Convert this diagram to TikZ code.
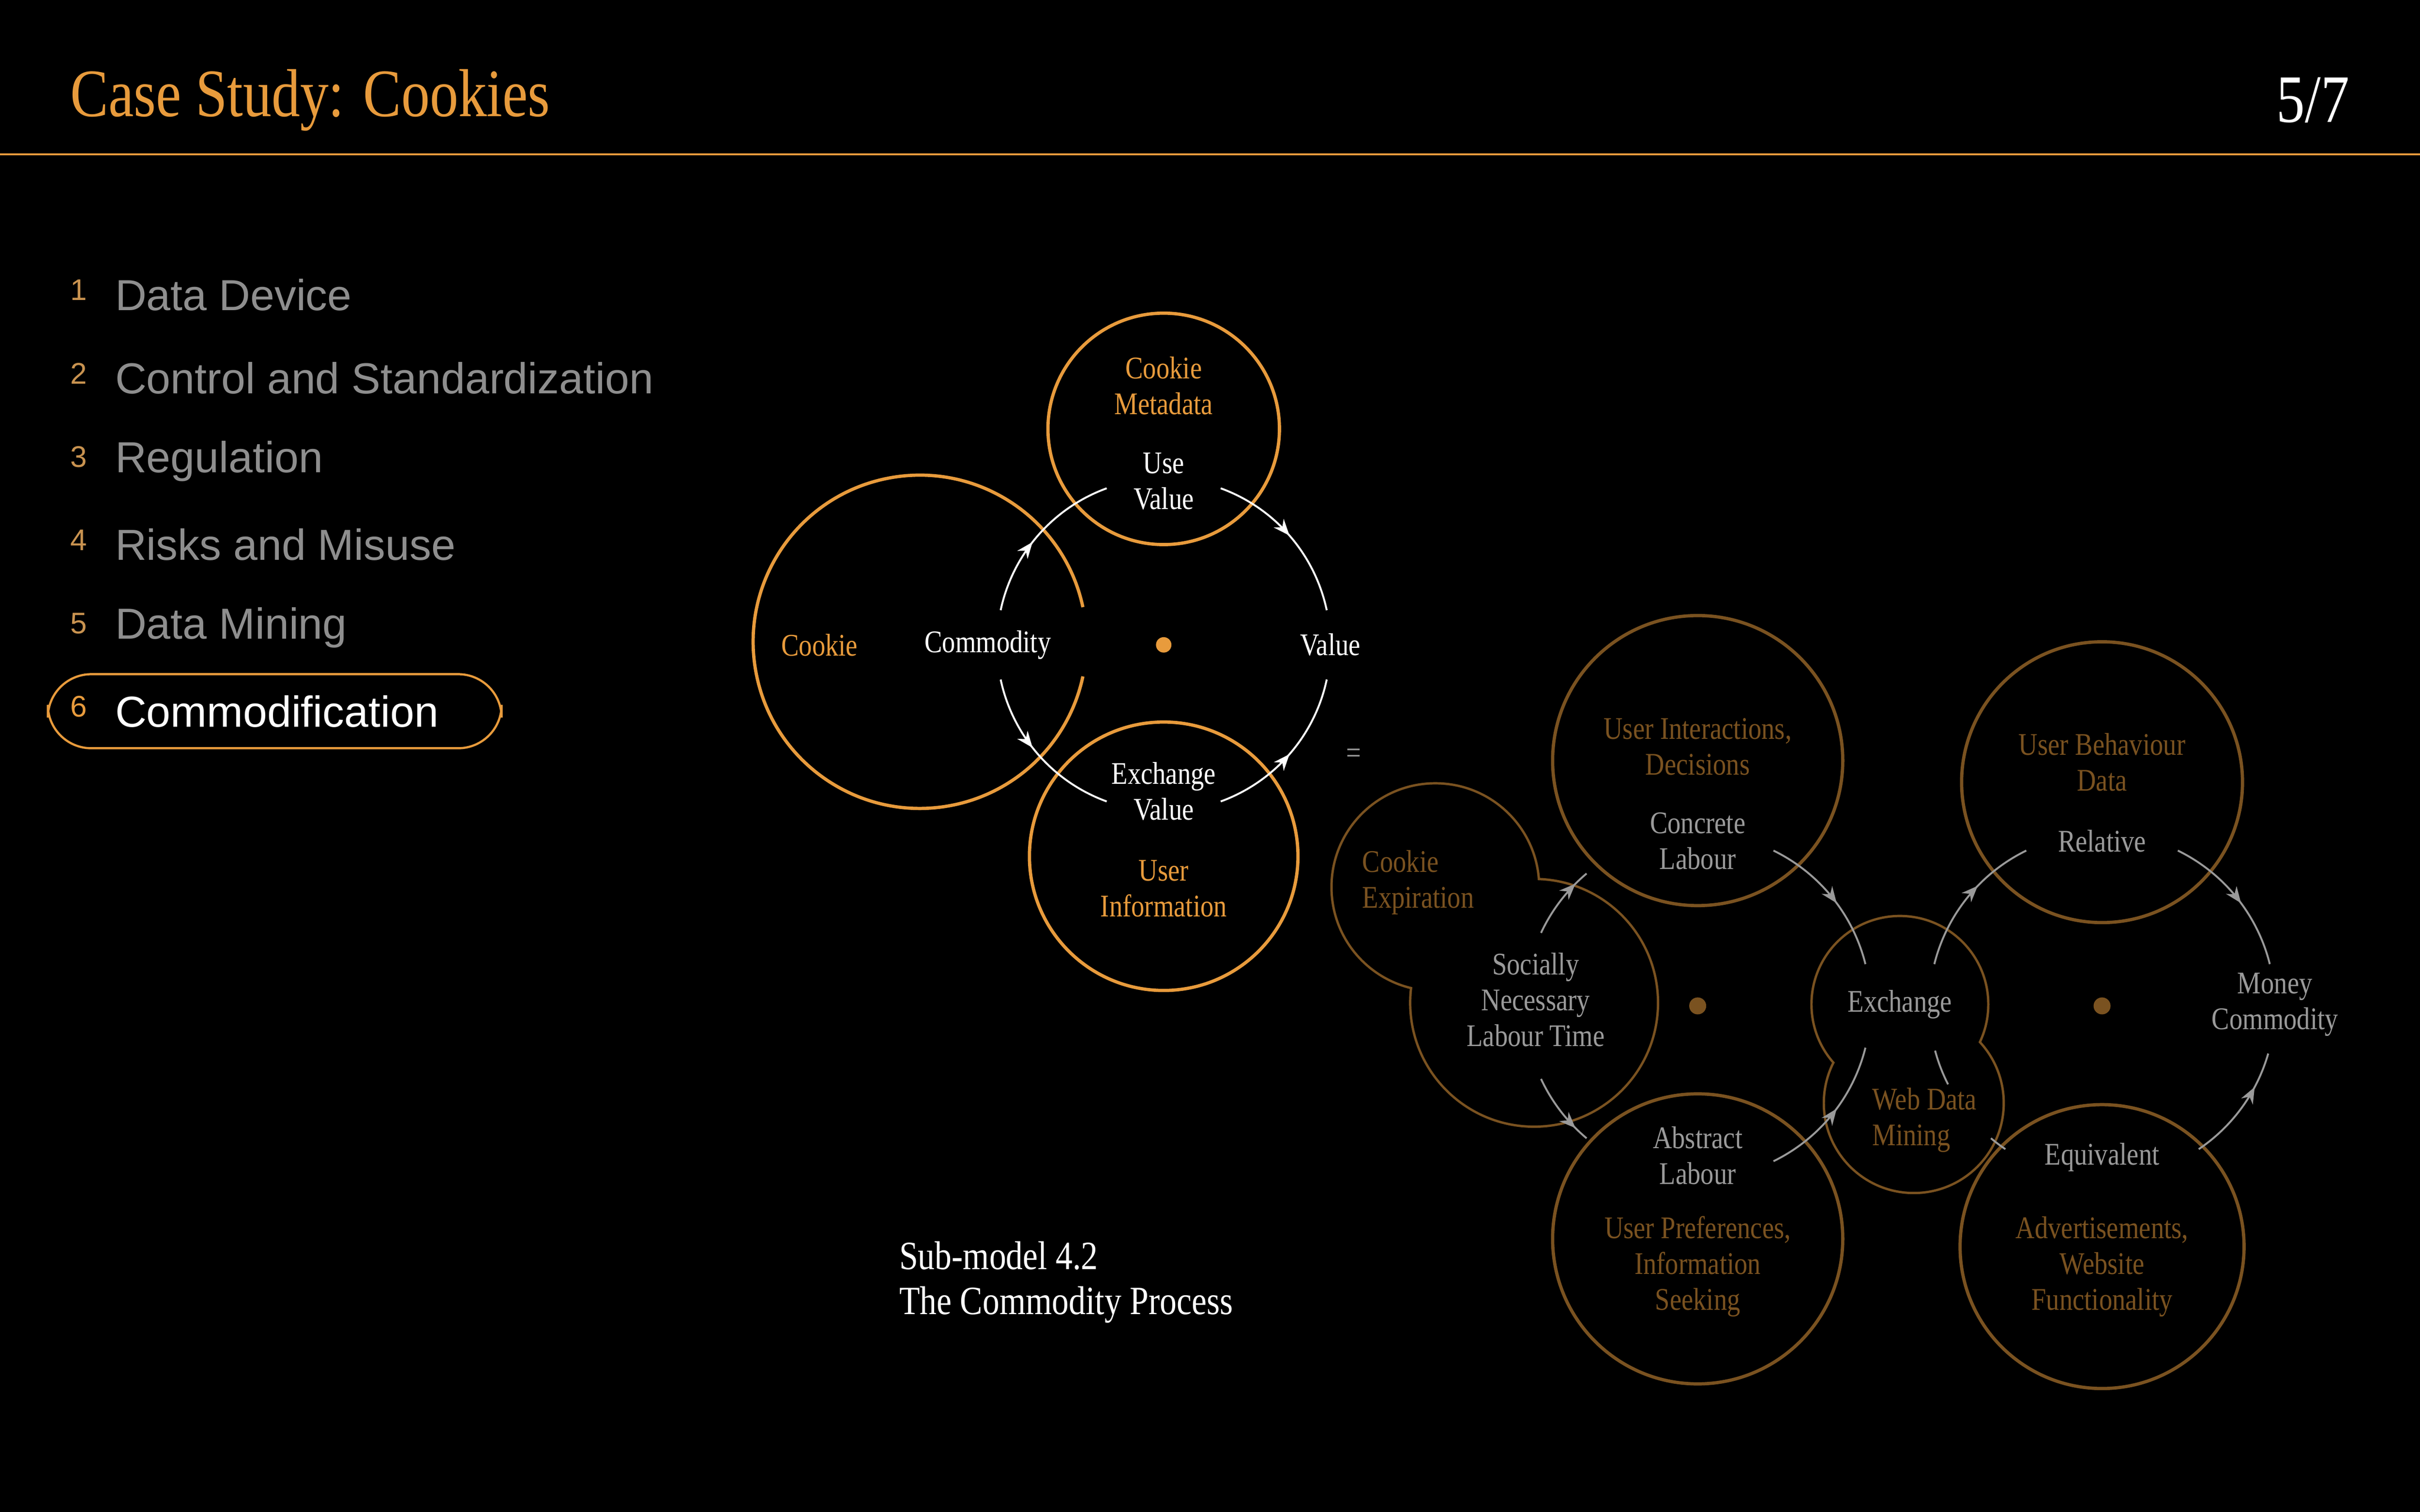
\documentclass[tikz,border=0pt]{standalone}
\usepackage{fontspec}
\setmainfont{Liberation Serif}[FakeStretch=0.84]
\newfontfamily\listfont{Liberation Sans}
\usetikzlibrary{arrows.meta, decorations.markings}
\definecolor{amber}{HTML}{E89B3C}
\definecolor{bronze}{HTML}{7A5220}
\definecolor{ash}{HTML}{9A9A9A}
\definecolor{listgray}{HTML}{8E8E8E}
\tikzset{
  txt/.style={font=\fontsize{5.8}{6.6}\selectfont, align=center, inner sep=0pt},
  ring/.style={draw=amber, line width=0.6pt},
  dimring/.style={draw=bronze, line width=0.6pt},
  flow/.style={draw=white, line width=0.35pt},
  dimflow/.style={draw=ash, line width=0.35pt},
  tipat/.style={postaction={decorate}, decoration={markings,
      mark=at position #1 with {\arrow{Stealth[length=3pt, width=2.4pt]}}}},
  listitem/.style={anchor=west, inner sep=0pt, text=listgray,
      font=\listfont\fontsize{8}{9}\selectfont},
  listnum/.style={anchor=east, inner sep=0pt, text=amber!70!gray,
      font=\listfont\fontsize{5.5}{6}\selectfont}
}
\begin{document}
\begin{tikzpicture}[x=0.01cm, y=0.01cm]
  \fill[black] (0,0) rectangle (1568,980);
  \useasboundingbox (0,0) rectangle (1568,980);

  % Header
  \node[anchor=west, inner sep=0pt, text=amber, font=\fontsize{12.5}{14}\selectfont] (title) at (45,915) {Case Study: Cookies};
  \node[anchor=east, inner sep=0pt, text=white, font=\fontsize{12.5}{14}\selectfont] (page) at (1523,915) {5/7};
  \coordinate (ruleL) at (0,880);
  \coordinate (ruleR) at (1568,880);
  \draw[amber, line width=0.4pt] (ruleL) -- (ruleR);

  % Chapter list
  \draw[amber, line width=0.4pt, rounded corners=8] (31,495) rectangle (325,543);
  \foreach \n/\t/\y in {1/Data Device/789, 2/Control and Standardization/735,
      3/Regulation/681, 4/Risks and Misuse/627, 5/Data Mining/573} {
    \node[listnum] (num\n) at (57,\y+3) {\n};
    \node[listitem] (item\n) at (74,\y) {\t};
  }
  \node[listnum, text=amber] (num6) at (57,522) {6};
  \node[listitem, text=white] (item6) at (74,519) {Commodification};

  % Sub-model 4.2
  \draw[ring] (596,564) ++(12:108) arc[start angle=12, end angle=348, radius=108];
  \draw[ring] (754,702) circle[radius=75];
  \draw[ring] (754,425) circle[radius=87];
  \coordinate (hub) at (754,562);
  \fill[amber] (hub) circle[radius=5];
  \draw[flow, tipat=0.45] (hub) ++(168:108) arc[start angle=168, end angle=110, radius=108];
  \draw[flow, tipat=0.5] (hub) ++(70:108) arc[start angle=70, end angle=12, radius=108];
  \draw[flow, tipat=0.45] (hub) ++(192:108) arc[start angle=192, end angle=250, radius=108];
  \draw[flow, tipat=0.5] (hub) ++(290:108) arc[start angle=290, end angle=348, radius=108];
  \node[txt, text=amber] (cookie) at (531,562) {Cookie};
  \node[txt, text=white] (commodity) at (640,562) {Commodity};
  \node[txt, text=amber] (meta) at (754,730) {Cookie\\Metadata};
  \node[txt, text=white] (useval) at (754,668) {Use\\Value};
  \node[txt, text=white] (value) at (862,562) {Value};
  \node[txt, text=white] (exval) at (754,467) {Exchange\\Value};
  \node[txt, text=amber] (userinfo) at (754,404) {User\\Information};

  \node[txt, text=ash] (equals) at (877,490) {=};

  % Expanded model
  \draw[dimring] (930,405) circle[radius=67];
  \draw[dimring] (994,330) circle[radius=80];
  \fill[black] (930,405) circle[radius=66.5] (994,330) circle[radius=79.5];
  \draw[dimring] (1231,329) circle[radius=57];
  \draw[dimring] (1240,265) circle[radius=58];
  \fill[black] (1231,329) circle[radius=56.5] (1240,265) circle[radius=57.5];
  \draw[dimring] (1100,487) circle[radius=94];
  \draw[dimring] (1100,177) circle[radius=94];
  \draw[dimring] (1362,473) circle[radius=91];
  \draw[dimring] (1362,172) circle[radius=92];
  \coordinate (hubL) at (1100,328);
  \coordinate (hubR) at (1362,328);
  \fill[bronze] (hubL) circle[radius=5.5] (hubR) circle[radius=5.5];

  \draw[dimflow, tipat=0.8] (hubL) ++(155:112) arc[start angle=155, end angle=130, radius=112];
  \draw[dimflow, tipat=0.55] (hubL) ++(64:112) arc[start angle=64, end angle=14, radius=112];
  \draw[dimflow, tipat=0.8] (hubL) ++(205:112) arc[start angle=205, end angle=230, radius=112];
  \draw[dimflow, tipat=0.55] (hubL) ++(296:112) arc[start angle=296, end angle=346, radius=112];
  \draw[dimflow, tipat=0.6] (hubR) ++(166:112) arc[start angle=166, end angle=116, radius=112];
  \draw[dimflow, tipat=0.55] (hubR) ++(64:112) arc[start angle=64, end angle=14, radius=112];
  \draw[dimflow, tipat=0.7] (hubR) ++(304:112) arc[start angle=304, end angle=344, radius=112];
  \draw[dimflow] (hubR) ++(195:112) arc[start angle=195, end angle=207, radius=112];
  \draw[dimflow] (hubR) ++(230:112) arc[start angle=230, end angle=236, radius=112];

  \node[txt, text=bronze, anchor=west, align=left] (expiry) at (882,408) {Cookie\\Expiration};
  \node[txt, text=ash] (snlt) at (995,332) {Socially\\Necessary\\Labour Time};
  \node[txt, text=bronze] (interact) at (1100,496) {User Interactions,\\Decisions};
  \node[txt, text=ash] (concrete) at (1100,435) {Concrete\\Labour};
  \node[txt, text=ash] (abstract) at (1100,231) {Abstract\\Labour};
  \node[txt, text=bronze] (prefs) at (1100,159) {User Preferences,\\Information\\Seeking};
  \node[txt, text=ash] (exchange) at (1231,329) {Exchange};
  \node[txt, text=bronze, align=left] (mining) at (1247,254) {Web Data\\Mining};
  \node[txt, text=bronze] (behaviour) at (1362,486) {User Behaviour\\Data};
  \node[txt, text=ash] (relative) at (1362,435) {Relative};
  \node[txt, text=ash] (money) at (1474,329) {Money\\Commodity};
  \node[txt, text=ash] (equivalent) at (1362,230) {Equivalent};
  \node[txt, text=bronze] (ads) at (1362,159) {Advertisements,\\Website\\Functionality};

  % Caption
  \node[anchor=west, align=left, inner sep=0pt, text=white,
        font=\fontsize{7.4}{8.3}\selectfont] (caption) at (582,149)
        {Sub-model 4.2\\The Commodity Process};
\end{tikzpicture}
\end{document}
